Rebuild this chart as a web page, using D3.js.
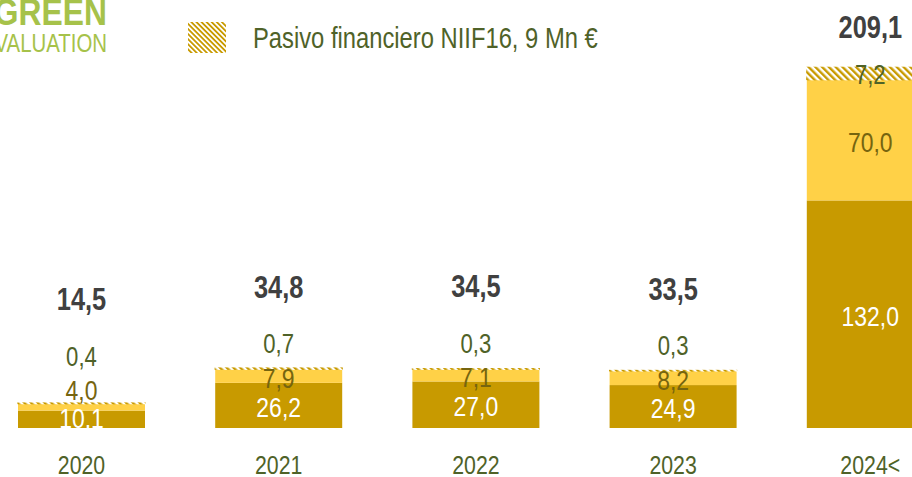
<!DOCTYPE html>
<html>
<head>
<meta charset="utf-8">
<script src="https://cdn.jsdelivr.net/npm/d3@7"></script>
<style>
  html, body { margin: 0; padding: 0; background: #fff; }
  svg { display: block; }
  text { font-family: "Liberation Sans", Arial, sans-serif; }
</style>
</head>
<body>
<svg id="chart" width="912" height="477"></svg>
<script>
// Debt breakdown by maturity year (Mn €)
const years = ["2020", "2021", "2022", "2023", "2024<"];
const deudaBancaria = [10.1, 26.2, 27.0, 24.9, 132.0];
const otraDeuda = [4.0, 7.9, 7.1, 8.2, 70.0];
const pasivoNIIF16 = [0.4, 0.7, 0.3, 0.3, 7.2];
const totals = ["14,5", "34,8", "34,5", "33,5", "209,1"];
const legendLabel = "Pasivo financiero NIIF16, 9 Mn €";

const fmt = v => v.toFixed(1).replace(".", ",");

const baseY = 428;
const NARROW = 0.82;   // condensed type, squeezed horizontally around its anchor
const svg = d3.select("#chart");

function narrow(sel, s = NARROW) {
  sel.each(function () {
    const t = d3.select(this);
    const x0 = +t.attr("x") || 0;
    t.attr("transform", `translate(${x0 * (1 - s)},0) scale(${s},1)`);
  });
  return sel;
}

const colDark = "#C89A00";
const colLight = "#FFD147";
const colGreen = "#4F6228";
const colOlive = "#76650F";

// hatch patterns
const defs = svg.append("defs");
function hatch(id, period) {
  const p = defs.append("pattern")
    .attr("id", id)
    .attr("patternUnits", "userSpaceOnUse")
    .attr("width", period).attr("height", period)
    .attr("patternTransform", "rotate(-45)");
  p.append("rect").attr("width", period).attr("height", period).attr("fill", "#fff");
  p.append("rect").attr("width", period / 2).attr("height", period).attr("fill", colDark);
}
hatch("hatchBar", 4.8);
hatch("hatchLegend", 3.6);

const x = d3.scaleBand()
  .domain(years)
  .range([-17.1, 968.9])
  .paddingInner(0.356)
  .paddingOuter(0.178);

const y = d3.scaleLinear().domain([0, 232]).range([baseY, 28]);

const rows = years.map((yr, i) => {
  const a = deudaBancaria[i], b = otraDeuda[i], c = pasivoNIIF16[i];
  return { yr, i, a, b, c, y0: y(0), y1: y(a), y2: y(a + b), y3: y(a + b + c) };
});

const g = svg.append("g");

// stacked segments
rows.forEach(r => {
  const bx = x(r.yr), bw = x.bandwidth();
  g.append("rect").attr("x", bx).attr("width", bw)
    .attr("y", r.y1).attr("height", r.y0 - r.y1).attr("fill", colDark);
  g.append("rect").attr("x", bx).attr("width", bw)
    .attr("y", r.y2).attr("height", r.y1 - r.y2).attr("fill", colLight);
  g.append("rect").attr("x", bx).attr("width", bw)
    .attr("y", r.y3).attr("height", r.y2 - r.y3)
    .attr("fill", "url(#hatchBar)")
    .attr("stroke", "url(#hatchBar)").attr("stroke-width", 1.2);
});

// value labels, stacked upward when segments are too thin
rows.forEach(r => {
  const cx = x(r.yr) + x.bandwidth() / 2;
  const yb = Math.min((r.y0 + r.y1) / 2 + 1.5, baseY - 10);
  const ym = Math.min((r.y1 + r.y2) / 2 + 1.5, yb - 28);
  const yt = Math.min((r.y2 + r.y3) / 2 + 1, ym - 34);
  const ytot = yt < r.y3 ? Math.min(r.y3 - 40, yt - 57) : r.y3 - 40;

  const labels = [
    [yb, 28, "#fff", "normal", fmt(r.a)],
    [ym, 28, colOlive, "normal", fmt(r.b)],
    [yt, 27, colGreen, "normal", fmt(r.c)],
    [ytot, 31, "#404040", "bold", totals[r.i]]
  ];
  labels.forEach(([ly, fs, fill, fw, txt]) => {
    g.append("text").attr("x", cx).attr("y", ly).attr("dy", "0.36em")
      .attr("text-anchor", "middle").attr("font-size", fs)
      .attr("font-weight", fw).attr("fill", fill)
      .text(txt)
      .call(narrow);
  });
});

// category axis labels
const xAxis = d3.axisBottom(x).tickSize(0).tickPadding(0);
const ax = svg.append("g").attr("transform", `translate(0,${baseY})`).call(xAxis)
  .attr("font-size", null).attr("font-family", null);
ax.select(".domain").remove();
ax.selectAll("text")
  .attr("y", 37).attr("dy", "0.36em")
  .attr("font-size", 26).attr("fill", colGreen)
  .call(narrow);

// legend
svg.append("rect").attr("x", 188).attr("y", 22).attr("width", 38).attr("height", 31)
  .attr("fill", "url(#hatchLegend)");
svg.append("text").attr("x", 253).attr("y", 48)
  .attr("font-size", 29).attr("fill", colGreen).text(legendLabel)
  .call(narrow);

// logo
const logo = svg.append("g").attr("fill", "#A6C24A").attr("text-anchor", "end");
logo.append("text").attr("x", 107).attr("y", 25).attr("font-size", 37).attr("font-weight", "bold").text("GREEN").call(narrow, 0.86);
logo.append("text").attr("x", 107).attr("y", 52).attr("font-size", 25.5).text("EVALUATION").call(narrow, 0.8);
</script>
</body>
</html>
